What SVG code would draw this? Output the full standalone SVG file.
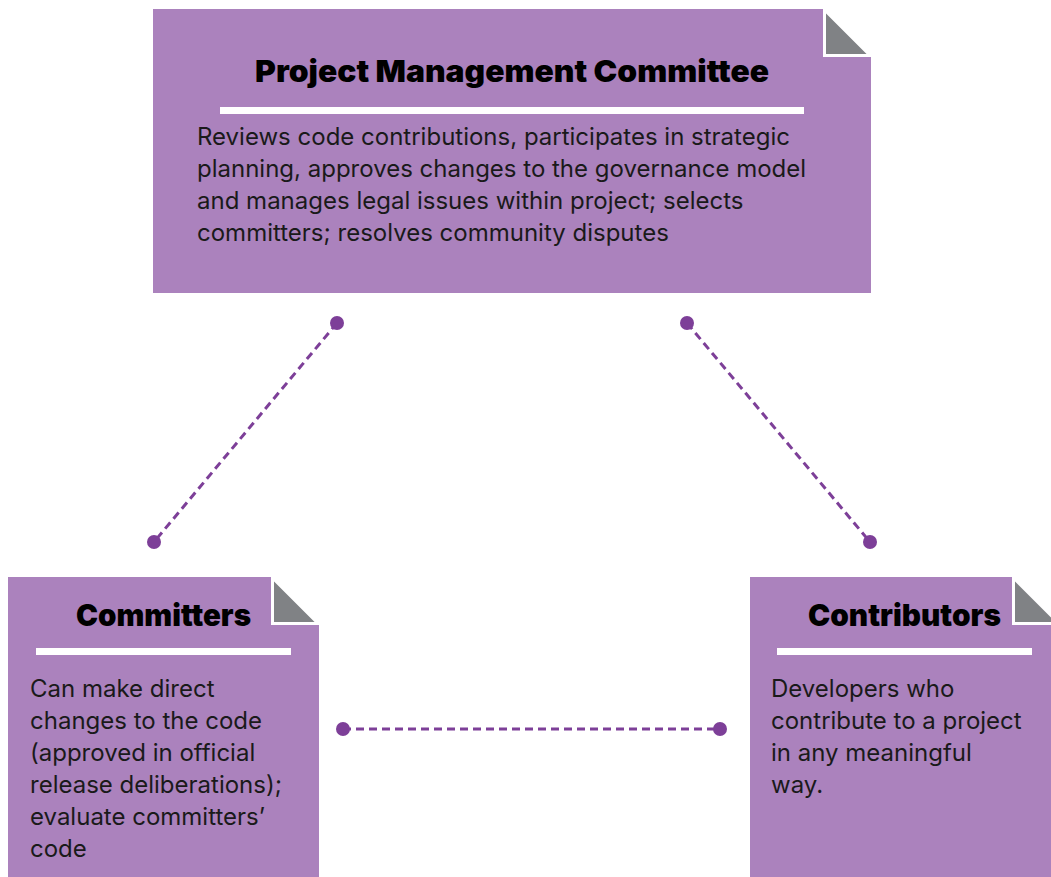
<svg xmlns="http://www.w3.org/2000/svg" width="1051" height="877" viewBox="0 0 1051 877">
<style>
.box{fill:#ab82bd}
.fold{fill:#808285;stroke:#ffffff;stroke-width:2}
.rule{fill:#ffffff}
.title{font-family:Inter,"Liberation Sans",sans-serif;font-weight:900;font-size:30px;fill:#000}
.body{font-family:Inter,"Liberation Sans",sans-serif;font-size:24px;fill:#1a1a1a}
.conn{stroke:#7d3f98;stroke-width:3;stroke-dasharray:8 5;fill:none}
.dot{fill:#7d3f98}
</style>
<rect width="1051" height="877" fill="#ffffff"/>
<g id="pmc">
<path class="box" d="M153 9 H823 V57 H871 V293 H153 Z"/>
<path class="fold" d="M825 11 V55 H869 Z"/>
<rect class="rule" x="220" y="107" width="584" height="7"/>
<text class="title" x="255" y="82" textLength="514" lengthAdjust="spacingAndGlyphs">Project Management Committee</text>
<text class="body"><tspan x="197" y="145">Reviews code contributions, participates in strategic</tspan><tspan x="197" y="177">planning, approves changes to the governance model</tspan><tspan x="197" y="209">and manages legal issues within project; selects</tspan><tspan x="197" y="241">committers; resolves community disputes</tspan></text>
</g>
<g id="committers">
<path class="box" d="M8 577 H271 V625 H319 V877 H8 Z"/>
<path class="fold" d="M273 579 V623 H317 Z"/>
<rect class="rule" x="36" y="648" width="255" height="7"/>
<text class="title" x="76" y="626" textLength="175" lengthAdjust="spacingAndGlyphs">Committers</text>
<text class="body"><tspan x="30" y="697">Can make direct</tspan><tspan x="30" y="729">changes to the code</tspan><tspan x="30" y="761">(approved in official</tspan><tspan x="30" y="793">release deliberations);</tspan><tspan x="30" y="825">evaluate committers’</tspan><tspan x="30" y="857">code</tspan></text>
</g>
<g id="contributors">
<path class="box" d="M750 577 H1012 V625 H1051 V877 H750 Z"/>
<path class="fold" d="M1014 579 V623 H1058 Z"/>
<rect class="rule" x="777" y="648" width="255" height="7"/>
<text class="title" x="808" y="626" textLength="193" lengthAdjust="spacingAndGlyphs">Contributors</text>
<text class="body"><tspan x="771" y="697">Developers who</tspan><tspan x="771" y="729">contribute to a project</tspan><tspan x="771" y="761">in any meaningful</tspan><tspan x="771" y="793">way.</tspan></text>
</g>
<g id="connectors">
<line class="conn" x1="337" y1="323" x2="154" y2="542"/>
<line class="conn" x1="687" y1="323" x2="870" y2="542"/>
<line class="conn" x1="343" y1="729" x2="720" y2="729"/>
<circle class="dot" cx="337" cy="323" r="7"/>
<circle class="dot" cx="154" cy="542" r="7"/>
<circle class="dot" cx="687" cy="323" r="7"/>
<circle class="dot" cx="870" cy="542" r="7"/>
<circle class="dot" cx="343" cy="729" r="7"/>
<circle class="dot" cx="720" cy="729" r="7"/>
</g>
</svg>
